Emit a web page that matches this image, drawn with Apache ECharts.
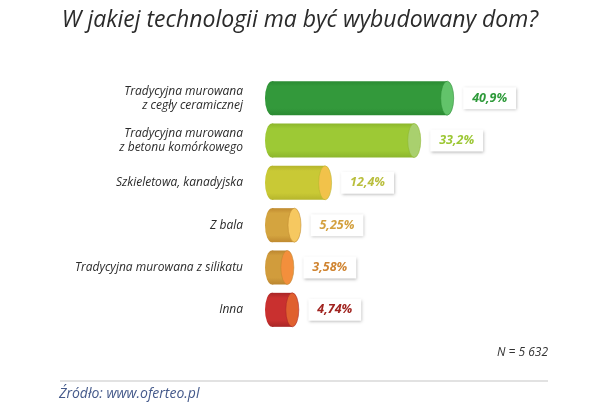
<!DOCTYPE html>
<html>
<head>
<meta charset="utf-8">
<script src="https://cdn.jsdelivr.net/npm/echarts@6/dist/echarts.min.js"></script>
<style>
  html, body { margin: 0; padding: 0; background: #fff; }
  #chart { width: 600px; height: 408px; }
</style>
</head>
<body>
<div id="chart"></div>
<script>
// survey answers, top to bottom
const categories = [
  'Tradycyjna murowana\nz cegły ceramicznej',
  'Tradycyjna murowana\nz betonu komórkowego',
  'Szkieletowa, kanadyjska',
  'Z bala',
  'Tradycyjna murowana z silikatu',
  'Inna'
]
const values = [40.9, 33.2, 12.4, 5.25, 3.58, 4.74]
const valueLabels = ['40,9%', '33,2%', '12,4%', '5,25%', '3,58%', '4,74%']

const bodyColors = ['#33993b', '#9dc935', '#c9c935', '#d4a43f', '#d19c3c', '#c9302f']
const bodyDark = ['#2a8a32', '#8cb62c', '#b5b52c', '#c08a30', '#bb8630', '#a82626']
const capColors = ['#62c36a', '#a9d06e', '#f2c24a', '#f6c860', '#f38f3c', '#e0602f']
const labelColors = ['#2e9a3a', '#9cc734', '#b9be3c', '#d3a03e', '#d08532', '#a0231f']

const chart = echarts.init(document.getElementById('chart'))

const fontFamily = 'Open Sans, sans-serif'

function cylinderFill(i) {
  return new echarts.graphic.LinearGradient(0, 0, 0, 1, [
    { offset: 0, color: bodyDark[i] },
    { offset: 0.15, color: bodyColors[i] },
    { offset: 0.8, color: bodyColors[i] },
    { offset: 1, color: bodyDark[i] }
  ])
}

const barData = values.map((v, i) => ({
  value: v,
  itemStyle: { color: cylinderFill(i) },
  label: { color: labelColors[i], formatter: valueLabels[i] }
}))

const leftCaps = values.map((v, i) => ({
  value: [0, i],
  itemStyle: { color: cylinderFill(i), opacity: 1 }
}))

const rightCaps = values.map((v, i) => ({
  value: [v, i],
  itemStyle: { color: capColors[i], borderColor: bodyDark[i], borderWidth: 0.5, opacity: 1 }
}))

chart.setOption({
  animation: false,
  title: {
    text: 'W jakiej technologii ma być wybudowany dom?',
    left: 'center',
    top: 4,
    textStyle: {
      fontFamily: fontFamily,
      fontStyle: 'italic',
      fontWeight: 'normal',
      fontSize: 23,
      color: '#2b2b2b'
    }
  },
  grid: {
    left: 272,
    right: 71,
    top: 77,
    bottom: 77
  },
  xAxis: {
    type: 'value',
    min: 0,
    max: 60,
    show: false
  },
  yAxis: {
    type: 'category',
    inverse: true,
    data: categories,
    axisLine: { show: false },
    axisTick: { show: false },
    axisLabel: {
      margin: 29,
      color: '#2b2b2b',
      fontFamily: fontFamily,
      fontStyle: 'italic',
      fontSize: 12,
      lineHeight: 14
    }
  },
  series: [
    {
      type: 'scatter',
      data: leftCaps,
      symbol: 'circle',
      symbolSize: [14, 34],
      z: 1,
      silent: true
    },
    {
      type: 'bar',
      data: barData,
      barWidth: 34,
      z: 2,
      label: {
        show: true,
        position: 'right',
        distance: 16,
        fontFamily: fontFamily,
        fontStyle: 'italic',
        fontWeight: 'bold',
        fontSize: 12.5,
        backgroundColor: '#fff',
        padding: [5, 9, 4, 9],
        shadowColor: 'rgba(0,0,0,0.3)',
        shadowBlur: 3,
        shadowOffsetX: 1,
        shadowOffsetY: 1
      }
    },
    {
      type: 'scatter',
      data: rightCaps,
      symbol: 'circle',
      symbolSize: [13, 34],
      z: 3,
      silent: true
    }
  ],
  graphic: [
    {
      type: 'text',
      right: 52,
      top: 347,
      style: {
        text: 'N = 5 632',
        font: 'italic 12px ' + fontFamily,
        fill: '#333'
      }
    },
    {
      type: 'line',
      shape: { x1: 60, y1: 381, x2: 548, y2: 381 },
      style: { stroke: '#e2e2e2', lineWidth: 2 }
    },
    {
      type: 'text',
      left: 59,
      top: 387,
      style: {
        text: 'Źródło: www.oferteo.pl',
        font: 'italic 14px ' + fontFamily,
        fill: '#44598a'
      }
    }
  ]
})
</script>
</body>
</html>
